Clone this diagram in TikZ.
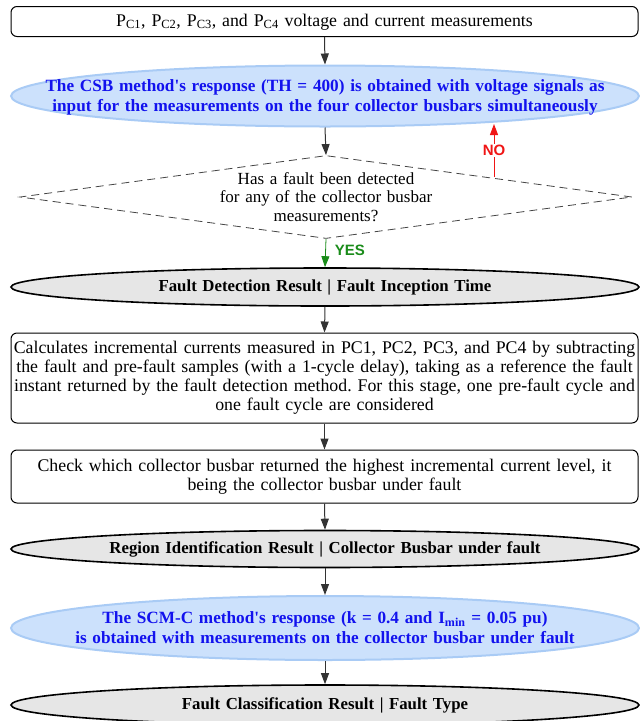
\documentclass[tikz,border=0pt]{standalone}
\usepackage{fontspec}
\setmainfont{Liberation Serif}
\setsansfont{Liberation Sans}
\usetikzlibrary{shapes.geometric,arrows.meta}
\definecolor{arrowgray}{HTML}{333333}
\definecolor{blueFill}{HTML}{CCE1FC}
\definecolor{blueLine}{HTML}{A9CBF5}
\definecolor{blueText}{HTML}{1212EE}
\definecolor{grayFill}{HTML}{E6E6E6}
\definecolor{noRed}{HTML}{F01515}
\definecolor{yesGreen}{HTML}{1A8C1A}
\definecolor{dashGray}{HTML}{444444}
\frenchspacing
\begin{document}
\begin{tikzpicture}[x=1pt,y=1pt,
  procbox/.style={draw=black, line width=1pt, rounded corners=6pt, minimum width=627pt, inner sep=0pt},
  txt/.style={align=center, text width=640pt, inner sep=0pt, font=\fontsize{17.8}{19}\selectfont},
  dtxt/.style={align=center, text width=640pt, inner sep=0pt, font=\fontsize{17}{18.5}\selectfont},
  boldtxt/.style={align=center, text width=640pt, inner sep=0pt, font=\fontsize{17.2}{20}\selectfont\bfseries},
  graytxt/.style={align=center, text width=640pt, inner sep=0pt, font=\fontsize{16.8}{20}\selectfont\bfseries},
  blueell/.style={ellipse, draw=blueLine, line width=2pt, fill=blueFill, minimum width=628pt, inner sep=0pt},
  grayell/.style={ellipse, draw=black, line width=1.6pt, fill=grayFill, minimum width=628pt, inner sep=0pt},
  decision/.style={diamond, draw=dashGray, line width=0.8pt, dash pattern=on 8pt off 5pt, minimum width=612pt, minimum height=83pt, inner sep=0pt, aspect=7.4},
  flow/.style={draw=arrowgray, line width=1pt, -{Triangle[length=11pt,width=8pt]}},
  answer/.style={font=\fontsize{15}{17}\selectfont\sffamily\bfseries, inner sep=1pt}
]
\clip (0,0) rectangle (640,-721);
\useasboundingbox (0,0) rectangle (640,-721);

% 1 measurements box
\node[procbox, minimum height=30pt] (meas) at (324.5,-21.5) {};
\node[txt] (measT) at (324.5,-22) {P\textsubscript{C1}, P\textsubscript{C2}, P\textsubscript{C3}, and P\textsubscript{C4} voltage and current measurements};

% 2 CSB ellipse
\node[blueell, minimum height=61pt] (csb) at (325,-96) {};
\node[boldtxt, text=blueText] (csbT) at (325,-97) {The CSB method\textquotesingle s response (TH = 400) is obtained with voltage signals as\\ input for the measurements on the four collector busbars simultaneously};

% 3 decision
\node[decision] (dec) at (326,-197) {};
\node[dtxt] (decT) at (dec) {Has a fault been detected\\ for any of the collector busbar\\ measurements?};

% 4 fault detection result
\node[grayell, minimum height=38pt] (fdr) at (325,-287) {};
\node[graytxt] (fdrT) at (fdr) {Fault Detection Result | Fault Inception Time};

% 5 incremental currents box
\node[procbox, minimum height=90pt] (inc) at (324.5,-378) {};
\node[txt] (incT) at (inc) {Calculates incremental currents measured in PC1, PC2, PC3, and PC4 by subtracting\\ the fault and pre-fault samples (with a 1-cycle delay), taking as a reference the fault\\ instant returned by the fault detection method. For this stage, one pre-fault cycle and\\ one fault cycle are considered};

% 6 check box
\node[procbox, minimum height=53pt] (chk) at (324.5,-476.5) {};
\node[txt] (chkT) at (chk) {Check which collector busbar returned the highest incremental current level, it\\ being the collector busbar under fault};

% 7 region identification result
\node[grayell, minimum height=37pt] (rir) at (325,-549) {};
\node[graytxt] (rirT) at (rir) {Region Identification Result | Collector Busbar under fault};

% 8 SCM-C ellipse
\node[blueell, minimum height=64pt] (scm) at (325,-628) {};
\node[boldtxt, text=blueText] (scmT) at (scm) {The SCM-C method\textquotesingle s response (k = 0.4 and I\textsubscript{min} = 0.05 pu)\\ is obtained with measurements on the collector busbar under fault};

% 9 fault classification result
\node[grayell, minimum height=40pt] (fcr) at (325,-705) {};
\node[graytxt] (fcrT) at (fcr) {Fault Classification Result | Fault Type};

% connectors
\draw[flow] (meas.south) -- (csb.north);
\draw[flow] (csb.south) -- (dec.north);
\draw[flow, draw=yesGreen, line width=0.8pt] (dec.south) -- node[answer, text=yesGreen, right=8pt, yshift=3pt] (yes) {YES} (fdr.north);
\draw[flow] (fdr.south) -- (inc.north);
\draw[flow] (inc.south) -- (chk.north);
\draw[flow] (chk.south) -- (rir.north);
\draw[flow] (rir.south) -- (scm.north);
\draw[flow] (scm.south) -- (fcr.north);

\coordinate (noA) at (494,-177);
\coordinate (noB) at (494,-124);
\draw[flow, draw=noRed] (noA) -- node[answer, text=noRed, fill=white] (no) {NO} (noB);
\end{tikzpicture}
\end{document}
